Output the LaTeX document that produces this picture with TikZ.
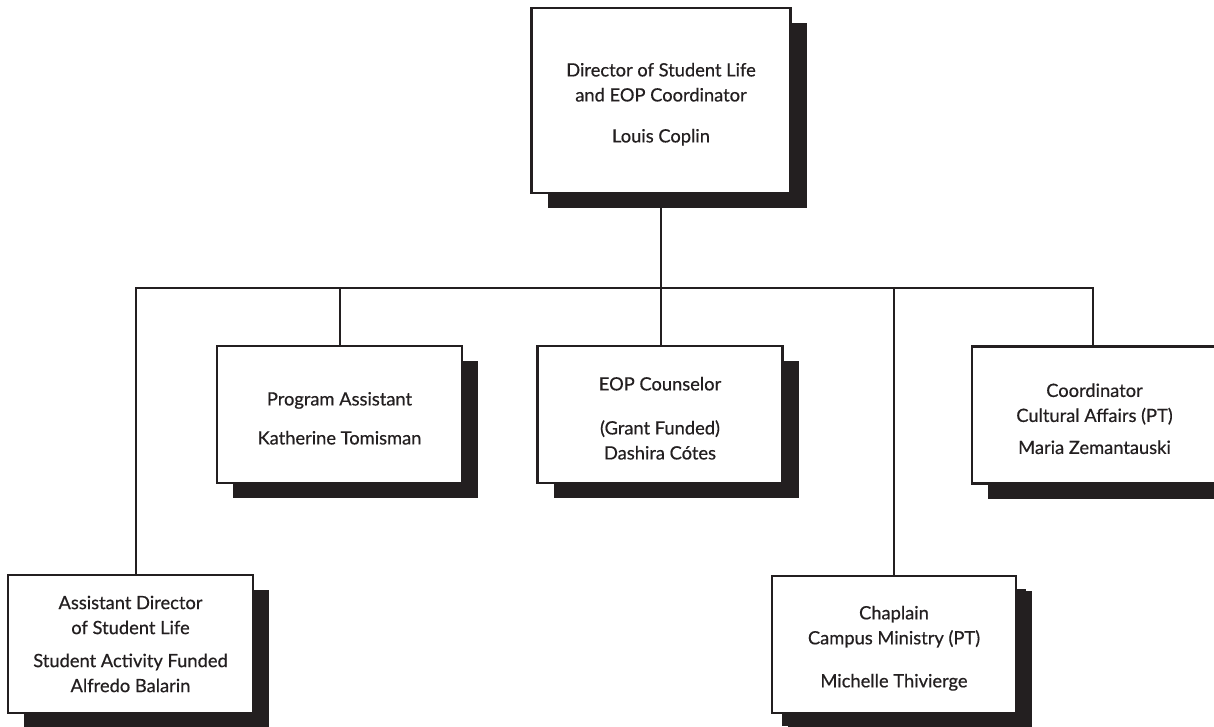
\documentclass[tikz,border=0pt]{standalone}
\usepackage{fontspec}
\setmainfont{Lato}[FakeBold=0.5]
\usetikzlibrary{shadows,backgrounds}
\definecolor{ink}{HTML}{231F20}
\newcommand{\topstrut}{\rule{0pt}{21pt}}
\tikzset{
  box/.style={draw=ink, line width=2.3pt, fill=white, align=center, text=ink,
    font=\fontsize{18.3}{25}\selectfont, inner sep=0pt,
    minimum width=245pt, minimum height=137pt,
    drop shadow={shadow xshift=16pt, shadow yshift=-15pt, opacity=1, fill=ink}},
  smallshadow/.style={drop shadow={shadow xshift=10pt, shadow yshift=-13pt, opacity=1, fill=ink}},
  conn/.style={draw=ink, line width=2pt}
}
\begin{document}
\begin{tikzpicture}[x=1pt,y=-1pt]
\useasboundingbox (0,0) rectangle (1214,726);
\clip (0,0) rectangle (1214,726);
\node[box, minimum width=259pt, minimum height=185pt] (dir) at (661,100.5)
  {\topstrut Director of Student Life\\and EOP Coordinator\\[16pt]Louis Coplin};
\node[box] (prog) at (339.5,414.5) {\topstrut Program Assistant\\[14pt]Katherine Tomisman};
\node[box] (eop) at (660,414.5) {\topstrut EOP Counselor\\[19pt](Grant Funded)\\Dashira Cótes};
\node[box] (coord) at (1094.5,415) {\topstrut Coordinator\\Cultural Affairs (PT)\\[7pt]Maria Zemantauski};
\node[box, minimum height=138pt] (asst) at (130.5,644)
  {Assistant Director\\of Student Life\\[8pt]Student Activity Funded\\Alfredo Balarin};
\node[box, smallshadow, minimum width=244pt] (chap) at (894,644.5)
  {\topstrut Chaplain\\Campus Ministry (PT)\\[18pt]Michelle Thivierge};
\coordinate (busL) at (136,288);
\coordinate (busR) at (1093,288);
\begin{pgfonlayer}{background}
\draw[conn] (dir.south) -- (dir.south |- eop.north);
\draw[conn] (busL |- asst.north) -- (busL) -- (busR) -- (busR |- coord.north);
\draw[conn] (prog.north) -- (prog.north |- busL);
\draw[conn] (chap.north) -- (chap.north |- busL);
\end{pgfonlayer}
\end{tikzpicture}
\end{document}
